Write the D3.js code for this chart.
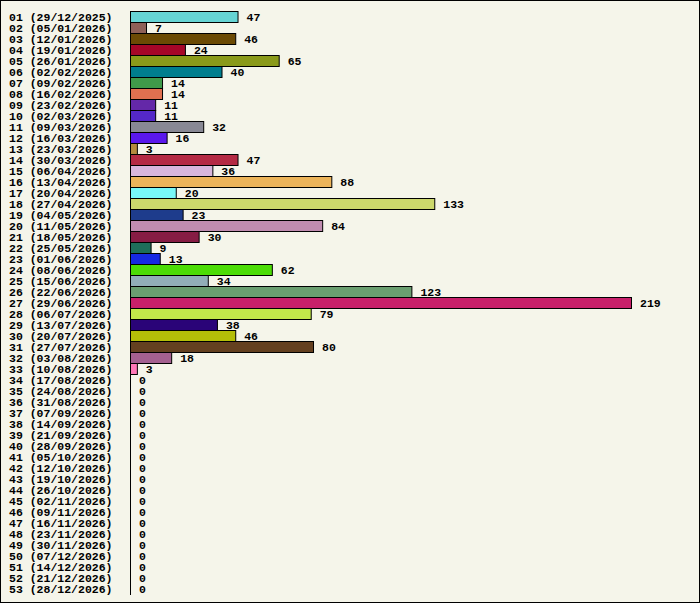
<!DOCTYPE html>
<html><head><meta charset="utf-8">
<script src="https://cdn.jsdelivr.net/npm/d3@7"></script>
<style>body{margin:0;background:#fff}</style>
</head><body><div class="canvas"></div>
<script>
const dims = { width: 700, height: 603 }
const margin = { left: 130, top: 11 }

const values = [47, 7, 46, 24, 65, 40, 14, 14, 11, 11, 32, 16, 3, 47, 36, 88, 20, 133, 23, 84, 30, 9, 13, 62, 34, 123, 219, 79, 38, 46, 80, 18, 3,
  0, 0, 0, 0, 0, 0, 0, 0, 0, 0, 0, 0, 0, 0, 0, 0, 0, 0, 0, 0]
const colors = ['#66d4d4', '#8e6058', '#6b4a04', '#a60628', '#8a9a1a', '#007e8e', '#3f9a4a', '#e07050', '#6428a8', '#5428c8',
  '#888894', '#5a18ec', '#b48a3e', '#b42a44', '#d8b6dc', '#ecb45a', '#78f8f8', '#ccd86c', '#1e3c8c', '#c08cb0',
  '#861c44', '#1e6e5a', '#1628e2', '#4cdc06', '#92aeb8', '#6a9e70', '#c8206a', '#c2e84a', '#2a0478', '#b4be08',
  '#644020', '#a46090', '#ff78b8']

const fmt = d3.timeFormat('%d/%m/%Y')
const start = new Date(2025, 11, 29)
const data = values.map((v, i) => ({
  label: `${String(i + 1).padStart(2, '0')} (${fmt(d3.timeDay.offset(start, i * 7))})`,
  value: v,
  color: colors[i] || '#ccc'
}))

const svg = d3.select('.canvas').append('svg')
  .attr('width', dims.width).attr('height', dims.height)
  .style('font-family', '"Liberation Mono", "DejaVu Sans Mono", monospace')
  .style('font-weight', 'bold').style('font-size', '11.5px')

svg.append('rect').attr('x', 0.5).attr('y', 0.5)
  .attr('width', dims.width - 1).attr('height', dims.height - 1)
  .attr('fill', '#f5f5ea').attr('stroke', '#000')

const x = d3.scaleLinear().domain([0, 219]).range([margin.left, 631])
const y = d3.scaleBand().domain(data.map(d => d.label))
  .range([margin.top, margin.top + 11 * data.length])

const rows = svg.selectAll('g.row').data(data).enter().append('g')

rows.filter(d => d.value > 0).append('rect')
  .attr('x', x(0) + 0.5).attr('y', d => y(d.label) + 0.5)
  .attr('width', d => x(d.value) - x(0)).attr('height', y.bandwidth())
  .attr('fill', d => d.color).attr('stroke', '#000')

rows.append('text').attr('x', 9).attr('y', d => y(d.label) + y.bandwidth() / 2)
  .attr('dy', '0.35em').text(d => d.label)

rows.append('text').attr('x', d => x(d.value) + 9).attr('y', d => y(d.label) + y.bandwidth() / 2)
  .attr('dy', '0.35em').text(d => d.value)

svg.append('line').attr('x1', x(0) + 0.5).attr('x2', x(0) + 0.5)
  .attr('y1', margin.top).attr('y2', 595).attr('stroke', '#000')
</script></body></html>
